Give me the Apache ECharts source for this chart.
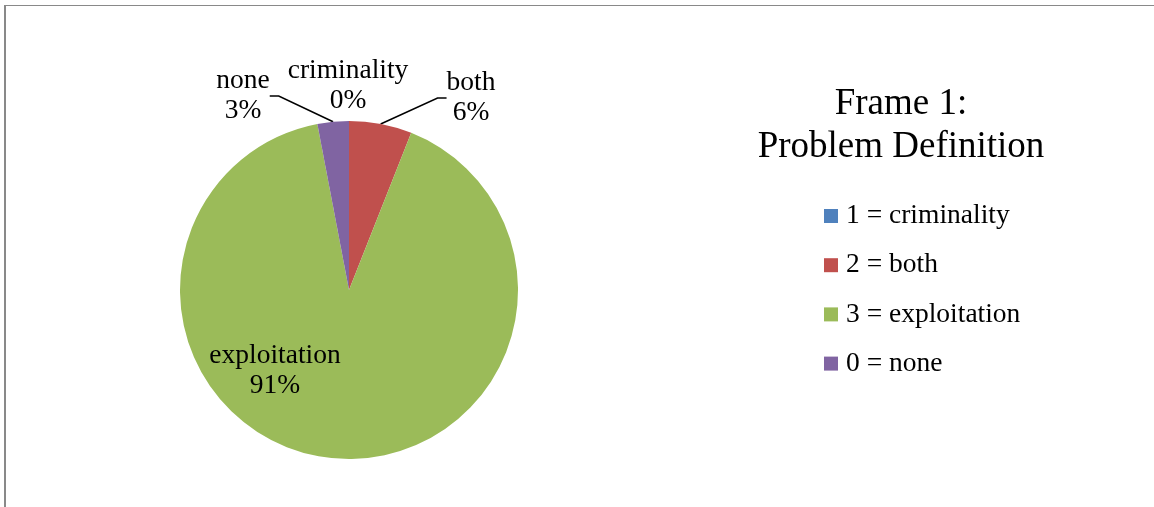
<!DOCTYPE html>
<html>
<head>
<meta charset="utf-8">
<script src="https://cdn.jsdelivr.net/npm/echarts@6/dist/echarts.min.js"></script>
<style>
  html, body { margin: 0; padding: 0; background: #fff; }
  #frame { position: absolute; left: 4px; top: 5px; width: 1160px; height: 510px;
           border-top: 1px solid #898989; border-left: 2px solid #898989; }
  #chart { position: absolute; left: 0; top: 0; width: 1154px; height: 507px; }
</style>
</head>
<body>
<div id="frame"></div>
<div id="chart"></div>
<script>
  // data (percent of items)
  var categories = ['criminality', 'both', 'exploitation', 'none'];
  var codes = ['1', '2', '3', '0'];
  var values = [0, 6, 91, 3];
  var colors = ['#4F81BD', '#C0504D', '#9BBB59', '#8064A2'];

  // where the data labels sit (Excel had them placed like this)
  var labelPos = [
    { x: 348, y: 86, align: 'center' },
    { x: 471, y: 98, align: 'center' },
    { x: 275, y: 371, align: 'center' },
    { x: 243, y: 96, align: 'center' }
  ];

  var font = "'Liberation Serif', 'Times New Roman', serif";

  var seriesData = categories.map(function (name, i) {
    var item = { name: name, value: values[i], itemStyle: { color: colors[i] } };
    if (name === 'criminality') item.labelLine = { show: false };
    if (name === 'exploitation') {
      item.label = { position: 'inside' };
      item.labelLine = { show: false };
    }
    return item;
  });

  var chart = echarts.init(document.getElementById('chart'));
  var option = {
    animation: false,
    title: {
      text: 'Frame 1:\nProblem Definition',
      left: 901,
      top: 83,
      textAlign: 'center',
      padding: 0,
      textStyle: {
        fontFamily: font,
        fontWeight: 'normal',
        fontSize: 37,
        lineHeight: 43,
        color: '#000'
      }
    },
    legend: {
      orient: 'vertical',
      left: 824,
      top: 201,
      padding: 0,
      itemWidth: 14,
      itemHeight: 14,
      itemGap: 19.2,
      icon: 'rect',
      selectedMode: false,
      data: categories,
      formatter: function (name) {
        return codes[categories.indexOf(name)] + ' = ' + name;
      },
      textStyle: {
        fontFamily: font,
        fontSize: 27.5,
        lineHeight: 30,
        color: '#000',
        padding: [0, 0, 0, 3]
      }
    },
    series: [{
      type: 'pie',
      center: [349, 290],
      radius: 169,
      startAngle: 90,
      clockwise: true,
      avoidLabelOverlap: false,
      emphasis: { disabled: true },
      itemStyle: { borderWidth: 0 },
      label: {
        show: true,
        position: 'outside',
        formatter: '{b}\n{d}%',
        fontFamily: font,
        fontSize: 27.5,
        lineHeight: 30,
        color: '#000'
      },
      labelLine: {
        show: true,
        length: 10,
        length2: 9,
        lineStyle: { color: '#000', width: 1.5 }
      },
      labelLayout: function (params) {
        var p = labelPos[params.dataIndex];
        return { x: p.x, y: p.y, align: p.align, verticalAlign: 'middle' };
      },
      data: seriesData
    }]
  };
  chart.setOption(option);
</script>
</body>
</html>
